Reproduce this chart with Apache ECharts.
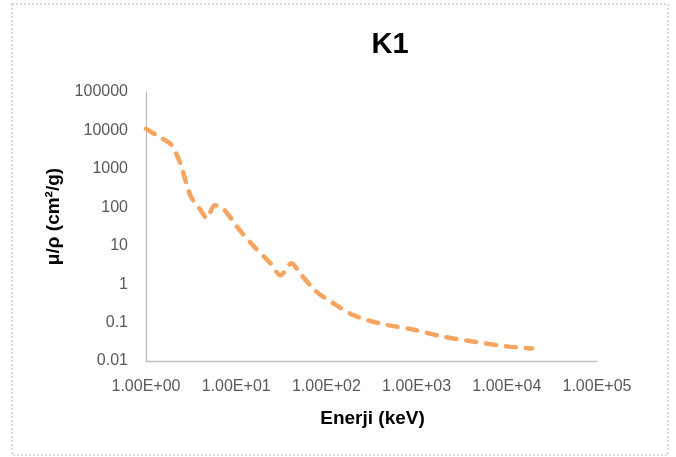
<!DOCTYPE html>
<html>
<head>
<meta charset="utf-8">
<script src="https://cdn.jsdelivr.net/npm/echarts@6/dist/echarts.min.js"></script>
<style>
  html, body { margin: 0; padding: 0; background: #fff; }
  #chart { width: 676px; height: 457px; }
</style>
</head>
<body>
<div id="chart"></div>
<script>
// energy (keV) and mass attenuation (cm2/g)
var energy = [1, 1.5, 1.9, 2.4, 2.8, 3.2, 4.0, 4.7, 5.8, 7.1, 11, 16, 24, 31, 41, 51, 78, 130, 200, 390, 910, 1800, 4200, 10000, 19000];
var mu = [11000, 6200, 4300, 1400, 420, 175, 87, 52, 113, 95, 25, 9.2, 3.5, 1.7, 3.5, 1.9, 0.63, 0.28, 0.155, 0.095, 0.066, 0.045, 0.032, 0.024, 0.021];

var yTicks = ['0.01', '0.1', '1', '10', '100', '1000', '10000', '100000'];
var xTicks = ['1.00E+00', '1.00E+01', '1.00E+02', '1.00E+03', '1.00E+04', '1.00E+05'];

var points = [];
for (var i = 0; i < energy.length; i++) {
  points.push([energy[i], mu[i]]);
}

var chart = echarts.init(document.getElementById('chart'));
chart.setOption({
  animation: false,
  backgroundColor: '#fff',
  grid: { left: 146, right: 79, top: 92, bottom: 96 },
  graphic: [
    {
      type: 'rect',
      shape: { x: 12, y: 4, width: 656, height: 451 },
      style: { fill: 'none', stroke: '#D0D0D0', lineWidth: 1.5, lineDash: [2, 2] }
    },
    {
      type: 'text',
      x: 390, y: 45,
      style: { text: 'K1', fill: '#000', font: 'bold 29px "Liberation Sans", Arial, sans-serif', align: 'center', verticalAlign: 'middle' }
    },
    {
      type: 'text',
      x: 372.5, y: 419,
      style: { text: 'Enerji (keV)', fill: '#000', font: 'bold 19px "Liberation Sans", Arial, sans-serif', align: 'center', verticalAlign: 'middle' }
    },
    {
      type: 'text',
      x: 54, y: 216.5, rotation: Math.PI / 2,
      style: { text: 'μ/ρ (cm²/g)', fill: '#000', font: 'bold 19px "Liberation Sans", Arial, sans-serif', align: 'center', verticalAlign: 'middle' }
    }
  ],
  xAxis: {
    type: 'log',
    logBase: 10,
    min: 1,
    max: 100000,
    axisLine: { lineStyle: { color: '#BFBFBF', width: 1.3 } },
    axisTick: { show: false },
    splitLine: { show: false },
    axisLabel: {
      color: '#595959',
      fontSize: 16,
      fontFamily: '"Liberation Sans", Arial, sans-serif',
      margin: 18,
      formatter: function (v) {
        var k = Math.round(Math.log10(v));
        return xTicks[k] || '';
      }
    }
  },
  yAxis: {
    type: 'log',
    logBase: 10,
    min: 0.01,
    max: 100000,
    axisLine: { show: true, lineStyle: { color: '#BFBFBF', width: 1.3 } },
    axisTick: { show: false },
    splitLine: { show: false },
    axisLabel: {
      color: '#595959',
      fontSize: 16,
      fontFamily: '"Liberation Sans", Arial, sans-serif',
      margin: 18,
      formatter: function (v) {
        var k = Math.round(Math.log10(v)) + 2;
        return yTicks[k] || '';
      }
    }
  },
  series: [{
    type: 'line',
    data: points,
    smooth: 0.3,
    symbol: 'none',
    lineStyle: { color: '#F6A560', width: 4.5, type: [10, 10], cap: 'round', join: 'round' }
  }]
});
</script>
</body>
</html>
